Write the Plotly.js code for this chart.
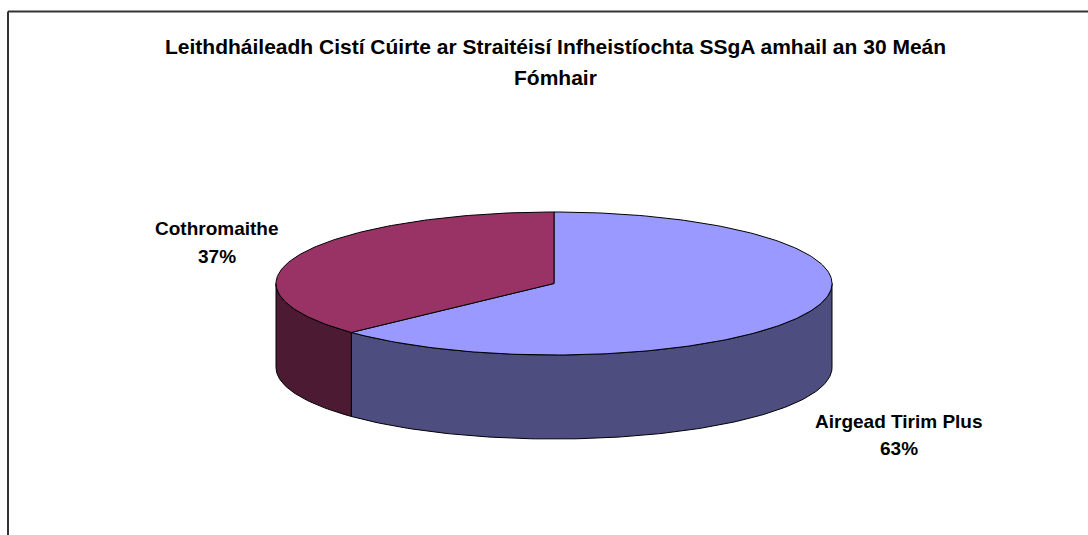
<!DOCTYPE html>
<html>
<head>
<meta charset="utf-8">
<script src="https://cdn.plot.ly/plotly-3.0.1.min.js"></script>
<style>html,body{margin:0;padding:0;background:#fff;}#chart{width:1088px;height:535px;}</style>
</head>
<body>
<div id="chart"></div>
<script>
// ---- data ----
const categories = ["Airgead Tirim Plus", "Cothromaithe"];
const values = [63, 37];
const topColors = ["#9999FF", "#993366"];
const sideColors = ["#4D4D80", "#4D1A33"];
const titleLines = ["Leithdháileadh Cistí Cúirte ar Straitéisí Infheistíochta SSgA amhail an 30 Meán", "Fómhair"];

// ---- geometry (layout) ----
const W = 1088, H = 535;
const cx = 554, cy = 283.5, rx = 278, ry = 71.5, depth = 84;
const labelPos = [{x: 899, y1: 421, y2: 448}, {x: 217, y1: 228, y2: 256}];
const FONT = '"Liberation Sans", Arial, sans-serif';

function pt(deg, dy) {
  const t = deg * Math.PI / 180;
  return [cx + rx * Math.sin(t), cy - ry * Math.cos(t) + (dy || 0)];
}
function arc(a0, a1, dy) {
  const pts = [];
  const n = Math.max(2, Math.ceil(Math.abs(a1 - a0) / 1));
  for (let i = 0; i <= n; i++) pts.push(pt(a0 + (a1 - a0) * i / n, dy));
  return pts;
}

const total = values.reduce((a, b) => a + b, 0);
const slices = [];
let acc = 0;
values.forEach((v, i) => {
  const a0 = acc / total * 360;
  acc += v;
  const a1 = acc / total * 360;
  slices.push({a0, a1, i});
});

const traces = [];
// side faces (front half: 90..270 deg)
slices.forEach(s => {
  const lo = Math.max(s.a0, 90), hi = Math.min(s.a1, 270);
  if (hi <= lo) return;
  const top = arc(lo, hi, 0);
  const bot = arc(hi, lo, depth);
  const pts = top.concat(bot);
  pts.push(top[0]);
  traces.push({
    type: 'scatter', mode: 'lines', fill: 'toself',
    x: pts.map(p => p[0]), y: pts.map(p => p[1]),
    fillcolor: sideColors[s.i], line: {color: '#000', width: 1},
    hoverinfo: 'skip', showlegend: false
  });
});
// top faces
slices.forEach(s => {
  const pts = [[cx, cy]].concat(arc(s.a0, s.a1, 0));
  pts.push([cx, cy]);
  traces.push({
    type: 'scatter', mode: 'lines', fill: 'toself',
    x: pts.map(p => p[0]), y: pts.map(p => p[1]),
    fillcolor: topColors[s.i], line: {color: '#000', width: 1},
    name: categories[s.i], hoverinfo: 'name', showlegend: false
  });
});

const annotations = [];
titleLines.forEach((t, k) => {
  annotations.push({
    text: '<b>' + t + '</b>', x: 555, y: 46 + k * 31, xref: 'x', yref: 'y',
    showarrow: false, font: {family: FONT, size: 21, color: '#000'},
    xanchor: 'center', yanchor: 'middle'
  });
});
categories.forEach((c, i) => {
  const pct = Math.round(values[i] / total * 100) + '%';
  const lp = labelPos[i];
  annotations.push({text: '<b>' + c + '</b>', x: lp.x, y: lp.y1, xref: 'x', yref: 'y',
    showarrow: false, font: {family: FONT, size: 19, color: '#000'}, xanchor: 'center', yanchor: 'middle'});
  annotations.push({text: '<b>' + pct + '</b>', x: lp.x, y: lp.y2, xref: 'x', yref: 'y',
    showarrow: false, font: {family: FONT, size: 19, color: '#000'}, xanchor: 'center', yanchor: 'middle'});
});

const layout = {
  width: W, height: H,
  margin: {l: 0, r: 0, t: 0, b: 0},
  paper_bgcolor: '#fff', plot_bgcolor: '#fff',
  xaxis: {range: [0, W], visible: false, fixedrange: true},
  yaxis: {range: [H, 0], visible: false, fixedrange: true},
  showlegend: false,
  annotations: annotations,
  shapes: [
    {type: 'line', xref: 'x', yref: 'y', x0: 8, y0: 11.5, x1: W + 5, y1: 11.5, line: {color: '#333', width: 2}},
    {type: 'line', xref: 'x', yref: 'y', x0: 8, y0: 11.5, x1: 8, y1: H + 5, line: {color: '#333', width: 2}}
  ]
};

Plotly.newPlot('chart', traces, layout, {displayModeBar: false, staticPlot: true});
</script>
</body>
</html>
